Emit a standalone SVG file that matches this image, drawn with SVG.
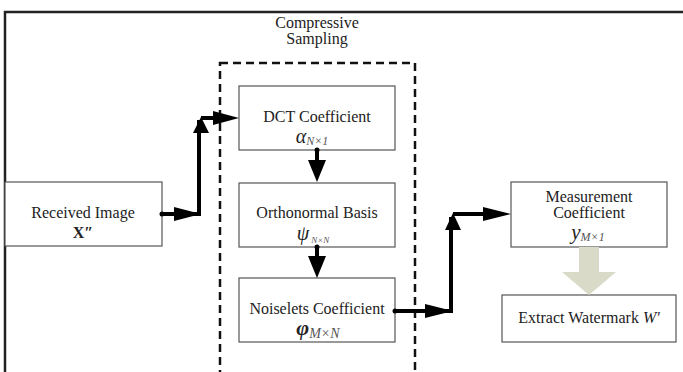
<svg xmlns="http://www.w3.org/2000/svg" width="683" height="372" viewBox="0 0 683 372">
<style>
.frame{fill:none;stroke:#222;stroke-width:2.5}
.dash{fill:none;stroke:#111;stroke-width:2.5;stroke-dasharray:8 5}
.box{fill:#fff;stroke:#555;stroke-width:1.2}
.t{font-family:'Liberation Serif','Times New Roman','DejaVu Serif',serif;font-size:16px;fill:#222;text-anchor:middle}
.m{font-family:'Liberation Serif','Times New Roman','DejaVu Serif',serif;font-style:italic;fill:#222}
.sub{font-family:'Liberation Serif','Times New Roman','DejaVu Serif',serif;font-style:italic;fill:#555}
.line{fill:none;stroke:#000;stroke-width:4}
.head{fill:#000}
</style>
<rect width="683" height="372" fill="#fff"/>
<path class="frame" d="M5,372 V12 H683"/>
<g id="compressive-sampling">
<rect class="dash" x="220" y="63" width="195" height="320"/>
<text class="t" x="317" y="28">Compressive</text>
<text class="t" x="317" y="44">Sampling</text>
</g>
<g id="received-image">
<rect class="box" x="5" y="182" width="157" height="64"/>
<text class="t" x="83" y="218">Received Image</text>
<text class="t" x="83" y="238" font-weight="bold">X″</text>
</g>
<g id="dct">
<rect class="box" x="239" y="86" width="156" height="64"/>
<text class="t" x="317" y="122">DCT Coefficient</text>
<text x="312" y="143" text-anchor="middle"><tspan class="m" font-size="20">α</tspan><tspan class="sub" font-size="12" dy="2">N×1</tspan></text>
</g>
<g id="orthonormal">
<rect class="box" x="239" y="183" width="156" height="64"/>
<text class="t" x="317" y="218">Orthonormal Basis</text>
<text x="313" y="240" text-anchor="middle"><tspan class="m" font-size="20">ψ</tspan><tspan class="sub" font-size="9" dy="3" dx="2">N×N</tspan></text>
</g>
<g id="noiselets">
<rect class="box" x="239" y="278" width="156" height="64"/>
<text class="t" x="317" y="314">Noiselets Coefficient</text>
<text x="318" y="335" text-anchor="middle"><tspan class="m" font-size="22" font-weight="bold">φ</tspan><tspan class="sub" font-size="14" dy="3">M×N</tspan></text>
</g>
<g id="measurement">
<rect class="box" x="511" y="182" width="156" height="65"/>
<text class="t" x="589" y="202">Measurement</text>
<text class="t" x="589" y="218">Coefficient</text>
<text x="588" y="239" text-anchor="middle"><tspan class="m" font-size="21">y</tspan><tspan class="sub" font-size="12" dy="2">M×1</tspan></text>
</g>
<g id="extract">
<rect class="box" x="502" y="295" width="174" height="47"/>
<text class="t" x="589" y="323">Extract Watermark <tspan font-style="italic">W′</tspan></text>
</g>
<g id="connectors">
<path class="line" d="M162,214 H199 V120 M201,118 H215"/>
<circle cx="162" cy="214" r="2.5"/>
<polygon class="head" points="174,207 201,214 174,221"/>
<polygon class="head" points="193,133 201,117 209,133"/>
<polygon class="head" points="213,111 239,118 213,125"/>
<path class="line" d="M395,311 H451 V217 M453,214 H485"/>
<circle cx="395" cy="311" r="2.5"/>
<polygon class="head" points="425,304 453,311 425,318"/>
<polygon class="head" points="445,230 453,213 461,230"/>
<polygon class="head" points="483,207 511,214 483,221"/>
<path class="line" d="M317,150 V162"/>
<circle cx="317" cy="150" r="2.5"/>
<polygon class="head" points="308,160 326,160 317,182"/>
<path class="line" d="M317,247 V258"/>
<circle cx="317" cy="247" r="2.5"/>
<polygon class="head" points="308,256 326,256 317,278"/>
<polygon fill="#d9dbc8" points="579,247 599,247 599,272 616,272 589,295 562,272 579,272"/>
</g>
</svg>
